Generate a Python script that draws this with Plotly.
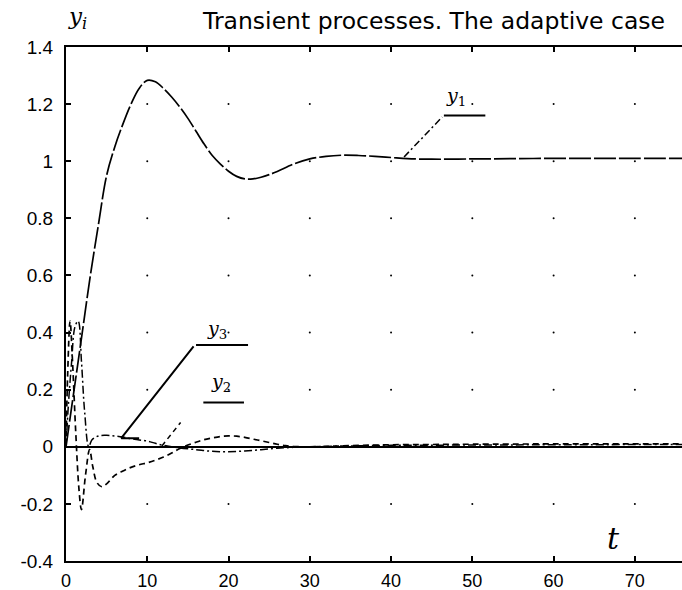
import plotly.graph_objects as go

# ---- data ----
t1 = [0, 1, 2, 3, 4, 5, 6, 7, 8, 9, 10, 11, 12, 13, 14, 15, 16, 17, 18, 19, 20,
      21, 22, 23, 24, 25, 26, 28, 30, 32, 34, 36, 38, 40, 42, 45, 50, 55, 60, 65, 70, 76]
y1 = [0, 0.2, 0.4, 0.6, 0.78, 0.95, 1.05, 1.13, 1.2, 1.255, 1.283, 1.278, 1.255, 1.225,
      1.19, 1.15, 1.105, 1.06, 1.02, 0.99, 0.965, 0.947, 0.938, 0.938, 0.944, 0.953,
      0.964, 0.99, 1.008, 1.017, 1.021, 1.02, 1.017, 1.013, 1.009, 1.007, 1.008, 1.009,
      1.01, 1.01, 1.01, 1.01]

t2 = [0, 0.2, 0.5, 0.8, 1.2, 1.6, 1.9, 2.4, 2.9, 3.3, 3.8, 4.4, 5, 6, 7, 8, 9, 10, 11,
      12, 13, 14, 15, 16, 17, 18, 19, 20, 21, 22, 23, 24, 25, 26, 27, 28, 30, 35, 40,
      45, 50, 60, 76]
y2 = [0, 0.25, 0.44, 0.3, 0.05, -0.15, -0.22, -0.1, -0.01, -0.07, -0.125, -0.14, -0.13,
      -0.1, -0.085, -0.072, -0.063, -0.056, -0.047, -0.036, -0.022, -0.006, 0.006,
      0.016, 0.025, 0.031, 0.036, 0.038, 0.037, 0.033, 0.027, 0.021, 0.015, 0.009,
      0.004, 0.001, 0.0, 0.004, 0.007, 0.008, 0.009, 0.01, 0.01]

t3 = [0, 0.3, 0.7, 1.1, 1.5, 1.9, 2.3, 2.8, 3.2, 4, 5, 6, 7, 8, 9, 10, 11, 12, 13, 14,
      16, 18, 20, 22, 24, 26, 28, 30, 35, 40, 50, 60, 76]
y3 = [0, 0.15, 0.3, 0.42, 0.44, 0.3, 0.12, 0.0, 0.025, 0.038, 0.04, 0.038, 0.034, 0.028,
      0.024, 0.02, 0.012, 0.005, 0.0, -0.004, -0.01, -0.016, -0.017, -0.015, -0.01,
      -0.005, -0.002, 0.0, 0.003, 0.005, 0.006, 0.007, 0.008]

x_ticks = [0, 10, 20, 30, 40, 50, 60, 70]
y_ticks = [-0.4, -0.2, 0, 0.2, 0.4, 0.6, 0.8, 1.0, 1.2, 1.4]
y_tick_text = ["-0.4", "-0.2", "0", "0.2", "0.4", "0.6", "0.8", "1", "1.2", "1.4"]

title_text = "Transient processes. The adaptive case"

# label callouts
lab1_pos = (48.0, 1.225)
lab1_under = ([46.5, 51.6], 1.16)
lab1_leader = ([41.6, 46.3], [1.015, 1.155])

lab3_pos = (18.6, 0.41)
lab3_under = ([16.0, 22.4], 0.356)
lab3_leader = ([15.7, 6.8, 9.0], [0.352, 0.03, 0.03])

lab2_pos = (19.1, 0.225)
lab2_under = ([16.9, 21.9], 0.155)
lab2_leader = ([11.8, 14.1], [0.003, 0.085])

X_RANGE = [0, 75.8]
Y_RANGE = [-0.4, 1.4]

fig = go.Figure()

# grid dots at tick intersections
gx, gy = [], []
for xv in x_ticks[1:]:
    for yv in y_ticks[1:-1]:
        if yv != 0:
            gx.append(xv)
            gy.append(yv)
fig.add_trace(go.Scatter(x=gx, y=gy, mode="markers",
                         marker=dict(size=2, color="black"), hoverinfo="skip"))

fig.add_trace(go.Scatter(x=t1, y=y1, mode="lines", line_shape="spline",
                         line=dict(color="black", width=1.7, dash="22px,3px")))
fig.add_trace(go.Scatter(x=t2, y=y2, mode="lines", line_shape="spline",
                         line=dict(color="black", width=1.7, dash="6px,4px")))
fig.add_trace(go.Scatter(x=t3, y=y3, mode="lines", line_shape="spline",
                         line=dict(color="black", width=1.5, dash="8px,3px,2px,3px")))

# leaders and underlines
fig.add_trace(go.Scatter(x=lab1_leader[0], y=lab1_leader[1], mode="lines",
                         line=dict(color="black", width=1.5, dash="7px,3px,2px,3px")))
fig.add_trace(go.Scatter(x=lab1_under[0], y=[lab1_under[1]] * 2, mode="lines",
                         line=dict(color="black", width=2)))
fig.add_trace(go.Scatter(x=lab3_leader[0], y=lab3_leader[1], mode="lines",
                         line=dict(color="black", width=2)))
fig.add_trace(go.Scatter(x=lab3_under[0], y=[lab3_under[1]] * 2, mode="lines",
                         line=dict(color="black", width=2)))
fig.add_trace(go.Scatter(x=lab2_leader[0], y=lab2_leader[1], mode="lines",
                         line=dict(color="black", width=1.5, dash="5px,4px")))
fig.add_trace(go.Scatter(x=lab2_under[0], y=[lab2_under[1]] * 2, mode="lines",
                         line=dict(color="black", width=2)))

lab_font = dict(family="DejaVu Serif", size=19, color="black")
for (px, py), s in [(lab1_pos, "1"), (lab3_pos, "3"), (lab2_pos, "2")]:
    fig.add_annotation(x=px, y=py, text="<i>y</i><sub>" + s + "</sub>", showarrow=False,
                       font=lab_font, xanchor="center", yanchor="middle")

# axis letters
fig.add_annotation(xref="paper", yref="paper", x=0, y=1, xshift=0, yshift=12,
                   text="<i>y</i><sub><i>i</i></sub>", showarrow=False,
                   font=dict(family="DejaVu Serif", size=23, color="black"),
                   xanchor="left", yanchor="bottom")
fig.add_annotation(x=67.4, y=-0.32, text="<i>t</i>", showarrow=False,
                   font=dict(family="DejaVu Serif", size=30, color="black"),
                   xanchor="center", yanchor="middle")

fig.add_annotation(xref="paper", yref="paper", x=(200 - 66) / 616, y=1, yshift=26,
                   text=title_text, showarrow=False,
                   font=dict(family="DejaVu Sans", size=23.5, color="black"),
                   xanchor="left", yanchor="middle")

fig.update_layout(
    width=682, height=590,
    margin=dict(l=66, r=0, t=47, b=29),
    paper_bgcolor="white", plot_bgcolor="white",
    showlegend=False,
    font=dict(family="Liberation Sans", size=19, color="black"),
)
fig.update_xaxes(range=X_RANGE, tickvals=x_ticks, ticks="inside", ticklen=5,
                 tickcolor="black", tickwidth=1.5, showline=True, linecolor="black",
                 linewidth=2, mirror="ticks", showgrid=False, zeroline=False,
                 ticklabelstandoff=2, tickfont=dict(size=18), automargin=False)
fig.update_yaxes(range=Y_RANGE, tickvals=y_ticks, ticktext=y_tick_text, ticks="inside",
                 ticklen=5, tickcolor="black", tickwidth=1.5, showline=True,
                 linecolor="black", linewidth=2, mirror=False, showgrid=False,
                 zeroline=True, zerolinecolor="black", zerolinewidth=1.8,
                 ticklabelstandoff=7, automargin=False)

fig.write_html("out.html", config={"displayModeBar": False},
               post_script="document.body.style.margin='0';document.body.style.overflow='hidden';")
